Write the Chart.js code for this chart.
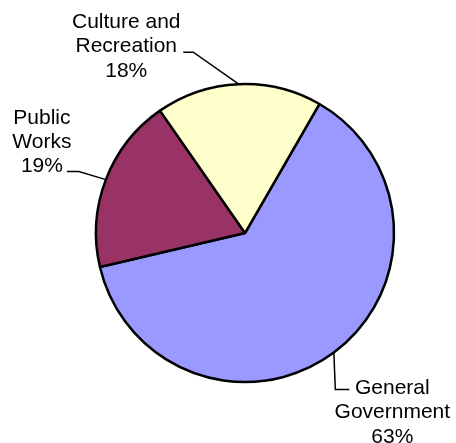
<!DOCTYPE html>
<html>
<head>
<meta charset="utf-8">
<script src="https://cdn.jsdelivr.net/npm/chart.js@4"></script>
<style>
  html, body { margin: 0; padding: 0; background: #fff; }
  canvas { display: block; }
</style>
</head>
<body>
<canvas id="pie-chart" width="456" height="443"></canvas>
<script>
// DATA
const categories = [['General', 'Government'], ['Public', 'Works'], ['Culture and', 'Recreation']];
const shares = [63, 19, 18];
const sliceColors = ['#9999FF', '#993366', '#FFFFCC'];

// LABEL LAYOUT (offsets from the slice's mid point on the rim)
const labelLayout = [
    { elbow: [1.5, 37], end: [15.5, 37], text: [58.5, 41.5] },
    { elbow: [-27, -8], end: [-39, -8], text: [-64, -56] },
    { elbow: [-45.5, -32], end: [-55.5, -32], text: [-112.5, -56] }
];
const lineHeight = 24.3;

const calloutPlugin = {
    id: 'callouts',
    afterDatasetsDraw(chart) {
        const ctx = chart.ctx;
        const meta = chart.getDatasetMeta(0);
        const total = shares.reduce((a, b) => a + b, 0);

        meta.data.forEach((arc, i) => {
            const p = arc.getProps(['x', 'y', 'startAngle', 'endAngle', 'outerRadius'], true);
            const mid = (p.startAngle + p.endAngle) / 2;
            const ax = p.x + Math.cos(mid) * p.outerRadius;
            const ay = p.y + Math.sin(mid) * p.outerRadius;
            const lay = labelLayout[i];

            ctx.save();
            ctx.strokeStyle = '#000';
            ctx.lineWidth = 1.5;
            ctx.beginPath();
            ctx.moveTo(ax, ay);
            ctx.lineTo(ax + lay.elbow[0], ay + lay.elbow[1]);
            ctx.lineTo(ax + lay.end[0], ay + lay.end[1]);
            ctx.stroke();

            const lines = categories[i].concat([Math.round(shares[i] / total * 100) + '%']);
            ctx.fillStyle = '#000';
            ctx.font = '21px "Liberation Sans", Arial, sans-serif';
            ctx.textAlign = 'center';
            ctx.textBaseline = 'alphabetic';
            lines.forEach((line, j) => {
                ctx.fillText(line, ax + lay.text[0], ay + lay.text[1] + j * lineHeight);
            });
            ctx.restore();
        });
    }
};

const pieChart = new Chart(document.getElementById('pie-chart').getContext('2d'), {
    type: 'pie',
    data: {
        labels: categories,
        datasets: [{
            data: shares,
            backgroundColor: sliceColors,
            borderColor: '#000',
            borderWidth: 2.5
        }]
    },
    options: {
        responsive: false,
        animation: false,
        rotation: 30,
        radius: 149,
        layout: {
            padding: { left: 34, top: 23, right: 0, bottom: 0 }
        },
        plugins: {
            legend: { display: false },
            tooltip: { enabled: false }
        }
    },
    plugins: [calloutPlugin]
});
</script>
</body>
</html>
